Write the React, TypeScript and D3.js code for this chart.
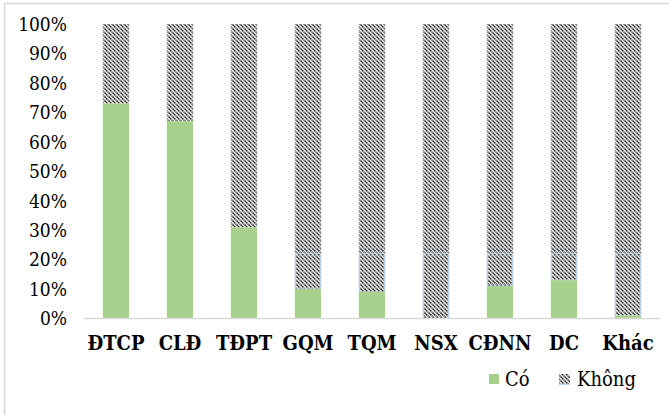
import React from "react";
import * as d3 from "d3";

// Categories and shares (percent of respondents answering "Có")
const categories = ["ĐTCP", "CLĐ", "TĐPT", "GQM", "TQM", "NSX", "CĐNN", "DC", "Khác"];
const coValues = [73, 67, 31, 10, 9, 0, 11, 13, 1];
const khongValues = coValues.map((v) => 100 - v);
const yTicks = [0, 10, 20, 30, 40, 50, 60, 70, 80, 90, 100];
const seriesNames = ["Có", "Không"];
// level up to which the hatched segments carry a faint outline
const outlineLevel = 22;

const W = 669;
const H = 415;
const margin = { left: 84, right: 9, top: 24, bottom: 96.5 };
const FONT = "'DejaVu Serif Condensed', 'DejaVu Serif', serif";
const GREEN = "#a9d18e";

export default function App() {
  const x = d3
    .scaleBand<string>()
    .domain(categories)
    .range([margin.left, W - margin.right])
    .paddingInner(0.59)
    .paddingOuter(0.295);
  const y = d3.scaleLinear().domain([0, 100]).range([H - margin.bottom, margin.top]);
  const bw = x.bandwidth();
  const txt = { fontFamily: FONT };

  return (
    <svg
      width={W}
      height={H}
      style={{ position: "absolute", left: 0, top: 0, background: "#fff" }}
    >
      <defs>
        <pattern id="hatch" patternUnits="userSpaceOnUse" width={4} height={4}>
          <rect width={4} height={4} fill="#fff" />
          <path
            d="M-1,-1 L5,5 M-1,3 L1,5 M3,-1 L5,1"
            stroke="#000"
            strokeWidth={1.5}
            strokeDasharray="1.6 0.6"
          />
        </pattern>
      </defs>
      <rect x={4.5} y={3.5} width={W + 10} height={H + 10} fill="#fff" stroke="#d9d9d9" strokeWidth={1.5} />

      {/* y axis labels */}
      {yTicks.map((t) => (
        <text
          key={t}
          x={67}
          y={y(t)}
          dy="0.36em"
          textAnchor="end"
          fontSize={19}
          fill="#000"
          style={txt}
        >
          {t}%
        </text>
      ))}

      {/* stacked bars */}
      {categories.map((c, i) => {
        const x0 = x(c)!;
        const co = coValues[i];
        const kh = khongValues[i];
        const outlineTop = Math.max(co, Math.min(outlineLevel, co + kh));
        return (
          <g key={c}>
            <rect x={x0} y={y(co + kh)} width={bw} height={y(co) - y(co + kh)} fill="url(#hatch)" />
            {outlineTop > co && (
              <rect
                x={x0 + 0.5}
                y={y(outlineTop)}
                width={bw - 1}
                height={y(co) - y(outlineTop)}
                fill="none"
                stroke="#bdd7ee"
                strokeWidth={1}
              />
            )}
            {co > 0 && (
              <rect x={x0} y={y(co)} width={bw} height={y(0) - y(co)} fill={GREEN} />
            )}
          </g>
        );
      })}

      {/* x axis line */}
      <line
        x1={margin.left}
        x2={W - margin.right}
        y1={y(0)}
        y2={y(0)}
        stroke="#d9d9d9"
        strokeWidth={1.5}
      />

      {/* category labels */}
      {categories.map((c) => (
        <text
          key={c}
          x={x(c)! + bw / 2}
          y={350}
          textAnchor="middle"
          fontSize={20}
          fontWeight="bold"
          fill="#000"
          style={txt}
        >
          {c}
        </text>
      ))}

      {/* legend */}
      <g>
        <rect x={489} y={374} width={10} height={10} fill={GREEN} />
        <text x={505} y={386} fontSize={20} fill="#000" style={txt}>
          {seriesNames[0]}
        </text>
        <rect x={559} y={374} width={11} height={10} fill="url(#hatch)" />
        <line x1={559} x2={570} y1={384.5} y2={384.5} stroke="#bdd7ee" strokeWidth={1} />
        <text x={577} y={386} fontSize={20} fill="#000" style={txt}>
          {seriesNames[1]}
        </text>
      </g>
    </svg>
  );
}
